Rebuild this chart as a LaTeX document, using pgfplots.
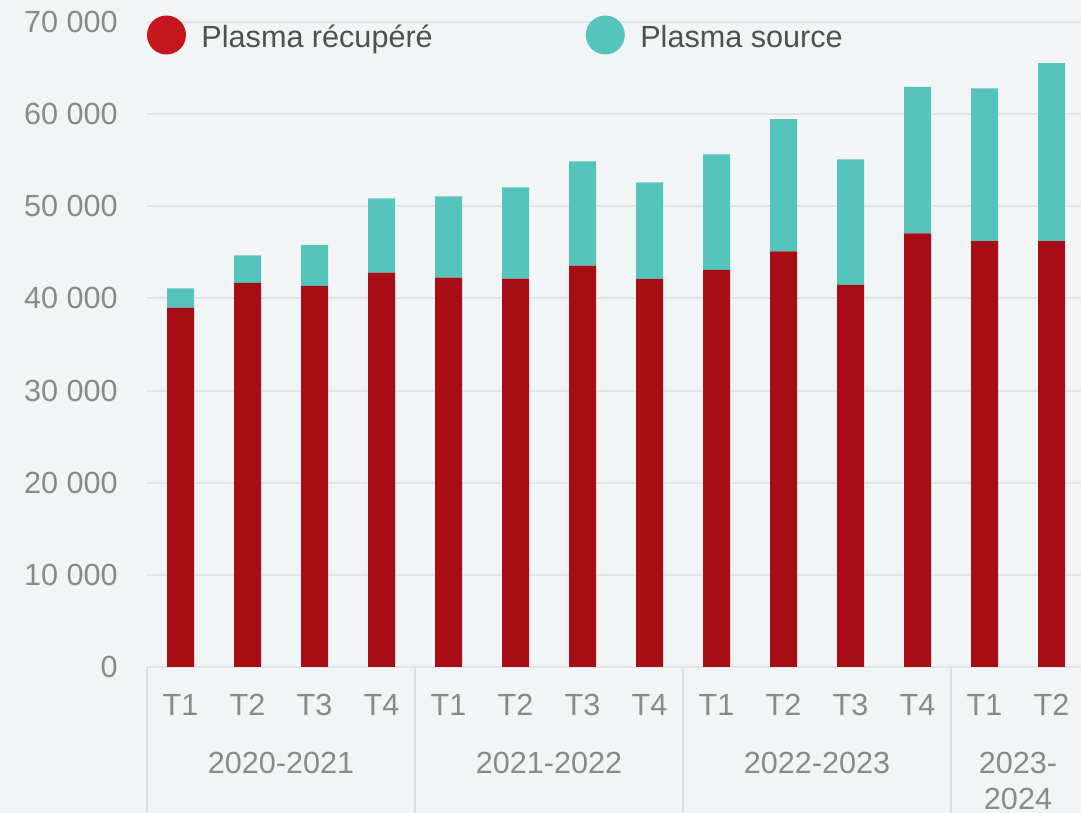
\documentclass[border=0pt]{standalone}
\usepackage{pgfplots}
\pgfplotsset{compat=1.18}
\usepackage{fontspec}
\setmainfont{Liberation Sans}
\definecolor{bgcol}{HTML}{F2F5F6}
\definecolor{barred}{HTML}{A60D14}
\definecolor{legred}{HTML}{C4161C}
\definecolor{barteal}{HTML}{55C4BC}
\definecolor{gridcol}{HTML}{E2E4E6}
\definecolor{sepcol}{HTML}{DCDEE0}
\definecolor{tickgray}{HTML}{8A8A8A}
\definecolor{legtext}{HTML}{505050}
\tikzset{grplab/.style={anchor=base, inner sep=0pt, text=tickgray, font=\fontsize{15.3}{18}\selectfont}}
\begin{document}
\begin{tikzpicture}
\fill[bgcol] (0,0) rectangle (540.5pt,406.5pt);
\begin{axis}[
  at={(73.5pt,73pt)}, anchor=south west,
  scale only axis, width=469pt, height=322.5pt,
  xmin=-0.5, xmax=13.5, ymin=0, ymax=70000,
  ybar stacked, bar width=13.5pt,
  axis line style={draw=none},
  major tick length=0pt,
  scaled y ticks=false,
  ymajorgrids, grid style={gridcol, line width=1pt},
  ytick={0,10000,20000,30000,40000,50000,60000,70000},
  yticklabels={0,10 000,20 000,30 000,40 000,50 000,60 000,70 000},
  yticklabel style={anchor=east, inner sep=0pt, xshift=-14.5pt, text=tickgray, font=\fontsize{15.3}{18}\selectfont},
  xtick={0,...,13},
  xticklabels={T1,T2,T3,T4,T1,T2,T3,T4,T1,T2,T3,T4,T1,T2},
  xticklabel style={anchor=base, inner sep=0pt, yshift=-24.5pt, text=tickgray, font=\fontsize{15.3}{18}\selectfont},
  clip=false,
  legend style={at={(axis description cs:0,1)}, anchor=west, yshift=-6.5pt,
    draw=none, fill=none, inner sep=0pt, outer sep=0pt,
    legend columns=2,
    nodes={inner sep=0pt, text=legtext, font=\fontsize{15.3}{18}\selectfont},
    /tikz/every odd column/.append style={column sep=7.75pt},
    /tikz/every even column/.append style={column sep=76.5pt}},
  legend image code/.code={\fill[#1] (9.75pt,1.5pt) circle (9.75pt);},
]
\addplot[fill=barred, draw=none, forget plot] coordinates {
(0,39000) (1,41700) (2,41350) (3,42800) (4,42250) (5,42150) (6,43560)
(7,42120) (8,43090) (9,45110) (10,41460) (11,47070) (12,46230) (13,46230)};
\addplot[fill=barteal, draw=none, forget plot] coordinates {
(0,2100) (1,2980) (2,4450) (3,8070) (4,8830) (5,9910) (6,11320)
(7,10480) (8,12550) (9,14360) (10,13640) (11,15880) (12,16570) (13,19320)};
\addlegendimage{fill=legred, draw=none}
\addlegendentry{Plasma récupéré}
\addlegendimage{fill=barteal, draw=none}
\addlegendentry{Plasma source}
\pgfplotsinvokeforeach{-0.5,3.5,7.5,11.5}{
  \draw[sepcol, line width=0.8pt] (axis cs:#1,0) -- ([yshift=-80pt]axis cs:#1,0);
}
\node[grplab] at ([yshift=-53pt]axis cs:1.5,0) {2020-2021};
\node[grplab] at ([yshift=-53pt]axis cs:5.5,0) {2021-2022};
\node[grplab] at ([yshift=-53pt]axis cs:9.5,0) {2022-2023};
\node[grplab] at ([yshift=-53pt]axis cs:12.5,0) {2023-};
\node[grplab] at ([yshift=-71pt]axis cs:12.5,0) {2024};
\end{axis}
\pgfresetboundingbox
\path[use as bounding box] (0,0) rectangle (540.5pt,406.5pt);
\end{tikzpicture}
\end{document}
